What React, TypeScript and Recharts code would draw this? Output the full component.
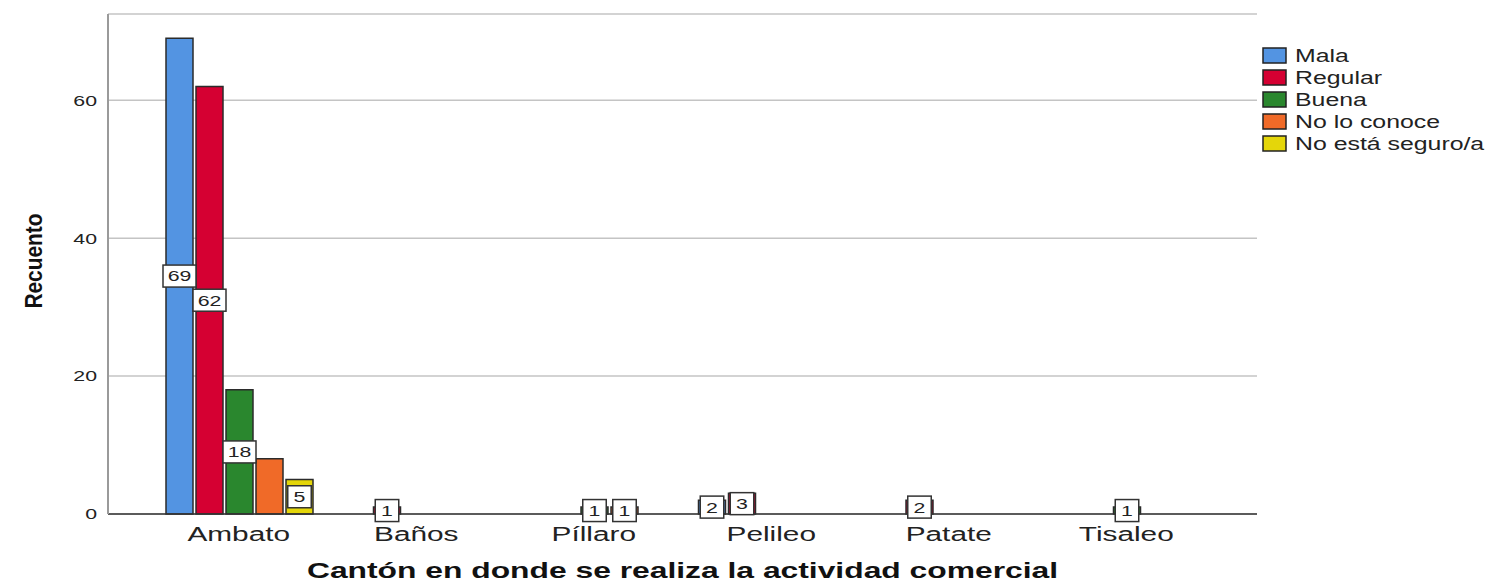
import React from 'react';
import { BarChart, Bar, XAxis, YAxis, CartesianGrid, Legend, LabelList, Label } from 'recharts';

const categories = ['Ambato', 'Baños', 'Píllaro', 'Pelileo', 'Patate', 'Tisaleo'];
const mala = [69, 0, 0, 2, 0, 0];
const regular = [62, 1, 0, 3, 2, 0];
const buena = [18, 0, 1, 0, 0, 1];
const noLoConoce = [8, 0, 1, 0, 0, 0];
const noSeguro = [5, 0, 0, 0, 0, 0];
const yTicks = [0, 20, 40, 60];

// which value labels the reference shows (the Ambato "No lo conoce" bar has none)
const malaShown = [true, true, true, true, true, true];
const regularShown = [true, true, true, true, true, true];
const buenaShown = [true, true, true, true, true, true];
const noLoConoceShown = [false, true, true, true, true, true];
const noSeguroShown = [true, true, true, true, true, true];

const seriesNames = ['Mala', 'Regular', 'Buena', 'No lo conoce', 'No está seguro/a'];
const seriesColors = ['#5394E2', '#D50032', '#2A872E', '#F06A28', '#E4D60A'];
const seriesValues = [mala, regular, buena, noLoConoce, noSeguro];
const seriesShown = [malaShown, regularShown, buenaShown, noLoConoceShown, noSeguroShown];

const xTitle = 'Cantón en donde se realiza la actividad comercial';
const yTitle = 'Recuento';

const data = categories.map((name, i) => {
  const row: Record<string, string | number> = { name };
  seriesValues.forEach((vals, s) => {
    row['s' + s] = vals[i];
  });
  return row;
});

const FONT = '"Liberation Sans", Arial, sans-serif';
const SX = 1.42;

const makeValueBox = (s: number) => (props: any) => {
  const { x, y, width, height, value, index } = props;
  if (!value) return null;
  if (index !== undefined && !seriesShown[s][index]) return null;
  const cx = Number(x) + Number(width) / 2;
  const cy = Number(y) + Number(height) / 2;
  const str = String(value);
  const w = 14 + 9.5 * str.length;
  const h = 22;
  return (
    <g>
      <rect x={cx - w / 2} y={cy - h / 2} width={w} height={h} fill="#fff" stroke="#333" strokeWidth={1.5} />
      <text
        transform={`translate(${cx},${cy}) scale(${SX},1)`}
        textAnchor="middle"
        dy="0.36em"
        fontSize={15}
        fontFamily={FONT}
        fill="#222"
      >
        {str}
      </text>
    </g>
  );
};

const XTick = (props: any) => {
  const { x, y, payload } = props;
  return (
    <text
      transform={`translate(${x},${y + 27}) scale(${SX},1)`}
      textAnchor="middle"
      fontSize={21}
      fontFamily={FONT}
      fill="#222"
    >
      {payload.value}
    </text>
  );
};

const YTick = (props: any) => {
  const { x, y, payload } = props;
  return (
    <text
      transform={`translate(${x},${y}) scale(${SX},1)`}
      textAnchor="end"
      dy="0.36em"
      fontSize={15}
      fontFamily={FONT}
      fill="#222"
    >
      {payload.value}
    </text>
  );
};

const renderXTitle = (props: any) => {
  const vb = props.viewBox;
  const cx = vb.x + vb.width / 2;
  return (
    <text
      transform={`translate(${cx},${vb.y + 64}) scale(1.48,1)`}
      textAnchor="middle"
      fontSize={21.5}
      fontWeight="bold"
      fontFamily={FONT}
      fill="#111"
    >
      {xTitle}
    </text>
  );
};

const renderYTitle = (props: any) => {
  const vb = props.viewBox;
  const cy = vb.y + vb.height / 2 - 3;
  return (
    <text
      transform={`translate(${vb.x + 42},${cy}) rotate(-90) scale(0.95,1.05)`}
      textAnchor="middle"
      fontSize={22}
      fontWeight="bold"
      fontFamily={FONT}
      fill="#111"
    >
      {yTitle}
    </text>
  );
};

const renderLegend = () => (
  <svg width={240} height={115}>
    {seriesNames.map((n, i) => (
      <g key={n}>
        <rect x={1} y={1 + i * 22} width={23} height={15} fill={seriesColors[i]} stroke="#222" strokeWidth={1.5} />
        <text
          transform={`translate(33,${15 + i * 22}) scale(${SX},1)`}
          fontSize={17.5}
          fontFamily={FONT}
          fill="#222"
        >
          {n}
        </text>
      </g>
    ))}
  </svg>
);

export default function App() {
  return (
    <div style={{ position: 'absolute', left: 0, top: 0, background: '#fff' }}>
      <BarChart
        width={1495}
        height={584}
        data={data}
        margin={{ top: 14, right: 238, bottom: 10, left: 0 }}
        barCategoryGap={16}
        barGap={3}
      >
        <CartesianGrid vertical={false} stroke="#c4c4c4" strokeWidth={1.5} />
        <XAxis
          dataKey="name"
          height={60}
          padding={{ left: 42, right: 42 }}
          tickSize={0}
          tickMargin={0}
          tick={<XTick />}
          axisLine={{ stroke: '#333', strokeWidth: 1.5 }}
          tickLine={false}
        >
          <Label content={renderXTitle} />
        </XAxis>
        <YAxis
          width={108}
          domain={[0, 72.5]}
          ticks={yTicks}
          tickSize={0}
          tickMargin={11}
          tick={<YTick />}
          axisLine={{ stroke: '#9a9a9a', strokeWidth: 2 }}
          tickLine={false}
        >
          <Label content={renderYTitle} />
        </YAxis>
        <Legend
          layout="vertical"
          align="center"
          verticalAlign="middle"
          content={renderLegend}
          wrapperStyle={{ left: 1262, top: 47, width: 240, height: 115 }}
        />
        {seriesNames.map((n, s) => (
          <Bar
            key={n}
            dataKey={'s' + s}
            name={n}
            fill={seriesColors[s]}
            stroke="#2b2b2b"
            strokeWidth={1.5}
            isAnimationActive={false}
          >
            <LabelList dataKey={'s' + s} content={makeValueBox(s)} />
          </Bar>
        ))}
      </BarChart>
    </div>
  );
}
